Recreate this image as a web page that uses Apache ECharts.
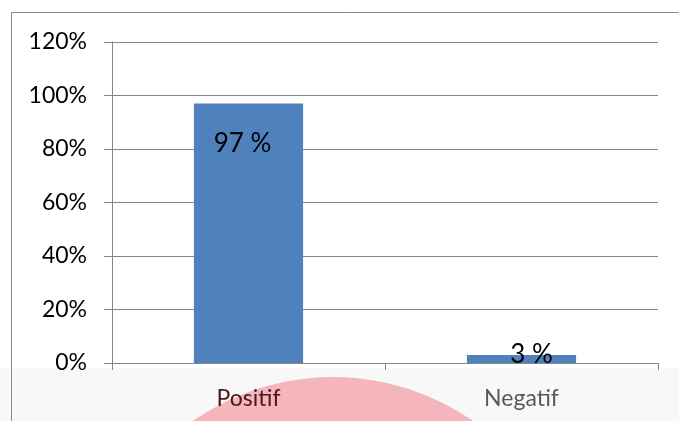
<!DOCTYPE html>
<html>
<head>
<meta charset="utf-8">
<script src="https://cdn.jsdelivr.net/npm/echarts@6/dist/echarts.min.js"></script>
<style>html,body{margin:0;padding:0;background:#fff;}#c{width:679px;height:421px;}</style>
</head>
<body>
<div id="c"></div>
<script>
const categories = ['Positif', 'Negatif'];
const values = [97, 3];
const yTicks = [0, 20, 40, 60, 80, 100, 120];

const chart = echarts.init(document.getElementById('c'));
const font = 'Lato, "Open Sans", sans-serif';
chart.setOption({
  animation: false,
  backgroundColor: '#ffffff',
  graphic: [
    { type: 'rect', z: -10, silent: true, shape: { x: 0, y: 368, width: 679, height: 60 }, style: { fill: '#f8f8f8' } },
    { type: 'circle', z: -9, silent: true, shape: { cx: 333, cy: 622, r: 245 }, style: { fill: '#f5b5bc' } },
    { type: 'rect', z: -8, silent: true, shape: { x: 11.5, y: 12.5, width: 700, height: 420 }, style: { fill: 'none', stroke: '#8a8a8a', lineWidth: 1 } }
  ],
  grid: { left: 112, right: 21, top: 42, bottom: 58, containLabel: false },
  xAxis: {
    type: 'category',
    data: categories,
    axisLine: { show: true, lineStyle: { color: '#868686', width: 1 } },
    axisTick: { show: true, length: 7, lineStyle: { color: '#868686' } },
    axisLabel: {
      margin: 24,
      fontFamily: font,
      fontSize: 23,
      color: function (v, i) { return i === 0 ? '#4a1616' : '#595959'; }
    }
  },
  yAxis: {
    type: 'value',
    min: 0, max: 120, interval: 20,
    axisLine: { show: true, lineStyle: { color: '#868686', width: 1 } },
    axisTick: { show: true, length: 8, lineStyle: { color: '#868686' } },
    splitLine: { show: true, lineStyle: { color: '#868686', width: 1 } },
    axisLabel: {
      margin: 25,
      fontFamily: font,
      fontSize: 23,
      color: '#000',
      formatter: function (v) { return yTicks.indexOf(v) >= 0 ? v + '%' : ''; }
    }
  },
  series: [{
    type: 'bar',
    barWidth: '40%',
    itemStyle: { color: '#4f81bd' },
    data: values.map(function (v, i) {
      return {
        value: v,
        label: i === 0
          ? { show: true, position: 'insideTop', distance: 26, offset: [-6, 1] }
          : { show: true, position: 'insideBottom', distance: 0, offset: [10, 5] }
      };
    }),
    label: {
      show: true,
      fontFamily: font,
      fontSize: 26,
      color: '#000',
      formatter: function (p) { return p.value + ' %'; }
    }
  }]
});
</script>
</body>
</html>
